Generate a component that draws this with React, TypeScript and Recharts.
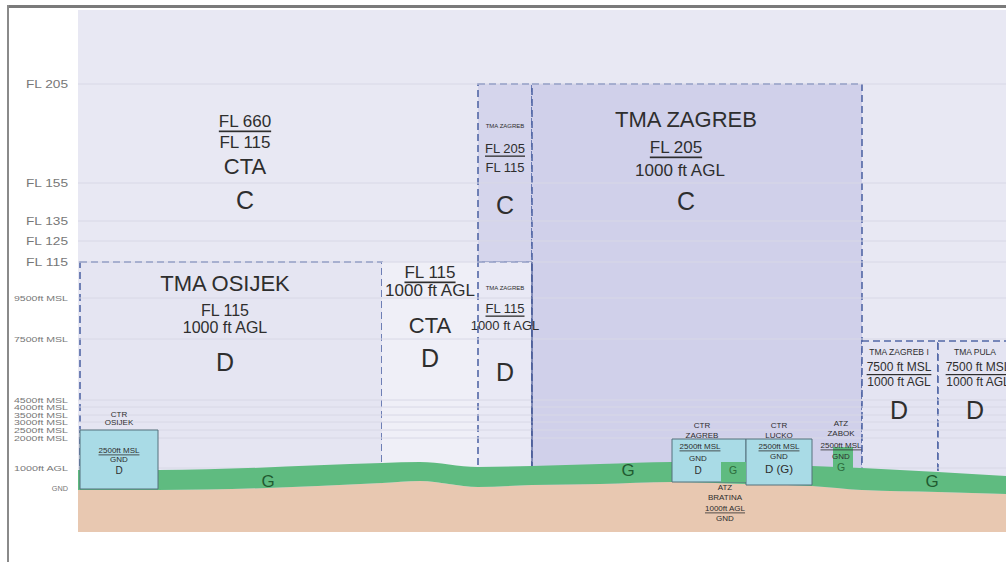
import React from 'react';
import {
  ComposedChart, XAxis, YAxis, Area, Scatter, ReferenceArea, ReferenceLine,
} from 'recharts';

// vertical reference levels (diagram is not to scale: heights are diagram units above the chart floor)
const LEVEL_NAMES = [
  'GND', '1000ft AGL', '2000ft MSL', '2500ft MSL', '3000ft MSL', '3500ft MSL', '4000ft MSL',
  '4500ft MSL', '7500ft MSL', '9500ft MSL', 'FL 115', 'FL 125', 'FL 135', 'FL 155', 'FL 205',
];
const LEVEL_HEIGHTS = [44, 64, 94, 102, 110, 117, 125, 132, 193, 234, 270, 291, 311, 349, 448];

// terrain profile along the route (distance units)
const ROUTE_X = [0, 80, 304, 342, 400, 454, 522, 594, 668, 734, 784, 860, 928];
const TERRAIN = [42, 42, 49, 51, 45, 47, 48, 50, 48, 46, 42, 40, 38];
const AGL_1000 = [62, 62, 69, 70, 65, 66, 68, 70, 69, 66, 64, 60, 56];

// airspace blocks
const BLOCK_NAMES = [
  'CTA', 'TMA OSIJEK', 'CTA D', 'TMA ZAGREB C', 'TMA ZAGREB D', 'TMA ZAGREB',
  'TMA ZAGREB I', 'TMA PULA',
];
const BLOCK_FROM = [0, 2, 304, 400, 400, 454, 784, 860];
const BLOCK_TO = [928, 304, 400, 454, 454, 784, 860, 940];
const BLOCK_FLOOR = [0, 30, 30, 270, 30, 30, 30, 30];
const BLOCK_CEIL = [522, 270, 270, 448, 270, 448, 191, 191];

// control zones / aerodrome traffic zones near the ground
const ZONE_NAMES = ['CTR OSIJEK', 'CTR ZAGREB', 'CTR LUCKO', 'ATZ BRATINA', 'ATZ ZABOK'];
const ZONE_FROM = [2, 594, 668, 643, 755];
const ZONE_TO = [80, 668, 734, 668, 775];
const ZONE_FLOOR = [43, 50, 47, 50, 60];
const ZONE_CEIL = [102, 93, 93, 70, 85];

// annotations
const LABEL_TEXT = [
  'FL 660', 'FL 115', 'CTA', 'C',
  'TMA OSIJEK', 'FL 115', '1000 ft AGL', 'D',
  'FL 115', '1000 ft AGL', 'CTA', 'D',
  'TMA ZAGREB', 'FL 205', 'FL 115', 'C',
  'TMA ZAGREB', 'FL 115', '1000 ft AGL', 'D',
  'TMA ZAGREB', 'FL 205', '1000 ft AGL', 'C',
  'TMA ZAGREB I', '7500 ft MSL', '1000 ft AGL', 'D',
  'TMA PULA', '7500 ft MSL', '1000 ft AGL', 'D',
  'CTR', 'OSIJEK', '2500ft MSL', 'GND', 'D',
  'CTR', 'ZAGREB', '2500ft MSL', 'GND', 'D', 'G',
  'ATZ', 'BRATINA', '1000ft AGL', 'GND',
  'CTR', 'LUCKO', '2500ft MSL', 'GND', 'D (G)',
  'ATZ', 'ZABOK', '2500ft MSL', 'GND', 'G',
  'G', 'G', 'G',
];
const LABEL_X = [
  167, 167, 167, 167,
  147, 147, 147, 147,
  352, 352, 352, 352,
  427, 427, 427, 427,
  427, 427, 427, 427,
  608, 598, 602, 608,
  821, 821, 821, 821,
  897, 900, 900, 897,
  41, 41, 41, 41, 41,
  624, 624, 622, 620, 620, 655,
  647, 647, 647, 647,
  701, 701, 701, 701, 701,
  763, 763, 763, 763, 763,
  190, 550, 854,
];
const LABEL_Y = [
  411, 390, 366, 332,
  249, 222, 205, 170,
  260, 242, 207, 174,
  406, 384, 365, 327,
  244, 224, 207, 160,
  413, 385, 362, 331,
  180, 165, 150, 122,
  180, 165, 150, 122,
  118, 110, 82, 73, 62,
  107, 97, 86, 74, 62, 62,
  45, 35, 24, 14,
  107, 97, 86, 76, 63,
  109, 99, 87, 76, 65,
  51, 62, 51,
];
const LABEL_ROLE = [
  'limitU', 'limit', 'name', 'cls',
  'title', 'limitS', 'limitS', 'cls',
  'limitU', 'limit', 'name', 'cls',
  'micro', 'narrowU', 'narrow', 'cls',
  'micro', 'narrowU', 'narrow', 'cls',
  'title', 'limitU', 'limit', 'cls',
  'boxTitle', 'smallU', 'small', 'cls',
  'boxTitle', 'smallU', 'small', 'cls',
  'ctr', 'ctr', 'ctrU', 'ctr', 'ctrCls',
  'ctr', 'ctr', 'ctrU', 'ctr', 'ctrCls', 'gSmall',
  'ctr', 'ctr', 'ctrU', 'ctr',
  'ctr', 'ctr', 'ctrU', 'ctr', 'ctrCls2',
  'ctr', 'ctr', 'ctrU', 'ctr', 'gSmall',
  'g', 'g', 'g',
];

const FONT = '"Liberation Sans", Arial, Helvetica, sans-serif';

const BLOCK_STYLE: Record<string, { fill: string; stroke?: string }> = {
  'CTA': { fill: '#e8e8f3' },
  'TMA OSIJEK': { fill: '#e5e5f2', stroke: '#5267a6' },
  'CTA D': { fill: '#efeff7' },
  'TMA ZAGREB C': { fill: '#d5d5ec', stroke: '#5267a6' },
  'TMA ZAGREB D': { fill: '#e9e9f5', stroke: '#5267a6' },
  'TMA ZAGREB': { fill: '#d0d0ea', stroke: '#5267a6' },
  'TMA ZAGREB I': { fill: '#e4e4f2', stroke: '#5267a6' },
  'TMA PULA': { fill: '#e4e4f2', stroke: '#5267a6' },
};

const ROLE_STYLE: Record<string, { size: number; color?: string; underline?: boolean }> = {
  title: { size: 22 },
  limit: { size: 17 },
  limitS: { size: 16 },
  limitU: { size: 17, underline: true },
  name: { size: 22 },
  cls: { size: 25 },
  narrow: { size: 13 },
  narrowU: { size: 13, underline: true },
  micro: { size: 6 },
  boxTitle: { size: 8.5 },
  small: { size: 12 },
  smallU: { size: 12, underline: true },
  ctr: { size: 8 },
  ctrU: { size: 8, underline: true },
  ctrCls: { size: 10 },
  ctrCls2: { size: 11.5 },
  gSmall: { size: 10.5, color: '#2b6b3c' },
  g: { size: 17, color: '#1f5a30' },
};

const LevelTick = (props: any) => {
  const { x, y, payload } = props;
  const idx = LEVEL_HEIGHTS.indexOf(payload.value);
  const label = LEVEL_NAMES[idx] ?? '';
  const isFL = label.startsWith('FL');
  return (
    <text
      x={x}
      y={y}
      textAnchor="end"
      dominantBaseline="central"
      fontFamily={FONT}
      fontSize={isFL ? 11 : 7.5}
      fill="#777"
      textLength={isFL ? label.length * 7 : label.length * 5.4}
      lengthAdjust="spacingAndGlyphs"
    >
      {label}
    </text>
  );
};

const LabelShape = (props: any) => {
  const d = props.payload ?? props;
  const st = ROLE_STYLE[d.role] ?? { size: 10 };
  return (
    <text
      x={props.cx}
      y={props.cy}
      textAnchor="middle"
      dominantBaseline="central"
      fontFamily={FONT}
      fontSize={st.size}
      fill={st.color ?? '#2e2e2e'}
      style={st.underline ? { textDecoration: 'underline' } : undefined}
    >
      {d.text}
    </text>
  );
};

export default function App() {
  const profile = ROUTE_X.map((x, i) => ({
    x,
    terrain: TERRAIN[i],
    band: [TERRAIN[i], AGL_1000[i]],
  }));
  const labels = LABEL_TEXT.map((text, i) => ({
    x: LABEL_X[i], y: LABEL_Y[i], text, role: LABEL_ROLE[i],
  }));

  return (
    <div style={{ position: 'fixed', left: 0, top: 0, width: 1006, height: 562, overflow: 'hidden', background: '#fff' }}>
      <div style={{ position: 'absolute', left: 7, top: 5, width: 999, height: 3, background: '#7a7a7a' }} />
      <div style={{ position: 'absolute', left: 7, top: 5, width: 2, height: 557, background: '#8a8a8a' }} />
      <div style={{ position: 'absolute', left: 9, top: 8 }}>
        <ComposedChart
          width={997}
          height={554}
          data={profile}
          margin={{ top: 2, right: 0, bottom: 30, left: 0 }}
        >
          <XAxis type="number" dataKey="x" domain={[0, 928]} hide allowDataOverflow />
          <YAxis
            type="number"
            domain={[0, 522]}
            ticks={LEVEL_HEIGHTS}
            interval={0}
            width={69}
            axisLine={false}
            tickLine={false}
            tickSize={0}
            tickMargin={10}
            tick={<LevelTick />}
            allowDataOverflow
          />

          {BLOCK_NAMES.map((name, i) => {
            const st = BLOCK_STYLE[name];
            return (
              <ReferenceArea
                key={name}
                x1={BLOCK_FROM[i]}
                x2={BLOCK_TO[i]}
                y1={BLOCK_FLOOR[i]}
                y2={BLOCK_CEIL[i]}
                fill={st.fill}
                fillOpacity={1}
                stroke={st.stroke ?? 'none'}
                strokeWidth={1.6}
                strokeDasharray="7 4"
                ifOverflow="visible"
                zIndex={20}
              />
            );
          })}

          {LEVEL_HEIGHTS.map((h) => (
            <ReferenceLine key={h} y={h} stroke="#d8d8e6" strokeWidth={1} ifOverflow="visible" zIndex={30} />
          ))}

          <ReferenceLine
            segment={[{ x: 454, y: 64 }, { x: 454, y: 270 }]}
            stroke="#4a5b96"
            strokeWidth={1.2}
            zIndex={35}
          />

          <Area
            dataKey="terrain"
            type="monotone"
            stroke="none"
            fill="#e8c8b1"
            fillOpacity={1}
            isAnimationActive={false}
            dot={false}
            activeDot={false}
            zIndex={40}
          />
          <Area
            dataKey="band"
            type="monotone"
            stroke="none"
            fill="#5fbb80"
            fillOpacity={1}
            isAnimationActive={false}
            dot={false}
            activeDot={false}
            zIndex={41}
          />

          {ZONE_NAMES.map((name, i) => {
            const isAtz = name.startsWith('ATZ');
            return (
              <ReferenceArea
                key={name}
                x1={ZONE_FROM[i]}
                x2={ZONE_TO[i]}
                y1={ZONE_FLOOR[i]}
                y2={ZONE_CEIL[i]}
                fill={isAtz ? '#5fbb80' : '#a9dbe6'}
                fillOpacity={1}
                stroke={isAtz ? 'none' : '#54707c'}
                strokeWidth={1}
                ifOverflow="visible"
                zIndex={isAtz ? 51 : 50}
              />
            );
          })}

          <Scatter
            data={labels}
            dataKey="y"
            shape={(p: any) => <LabelShape {...p} />}
            isAnimationActive={false}
            zIndex={60}
          />
        </ComposedChart>
      </div>
    </div>
  );
}
